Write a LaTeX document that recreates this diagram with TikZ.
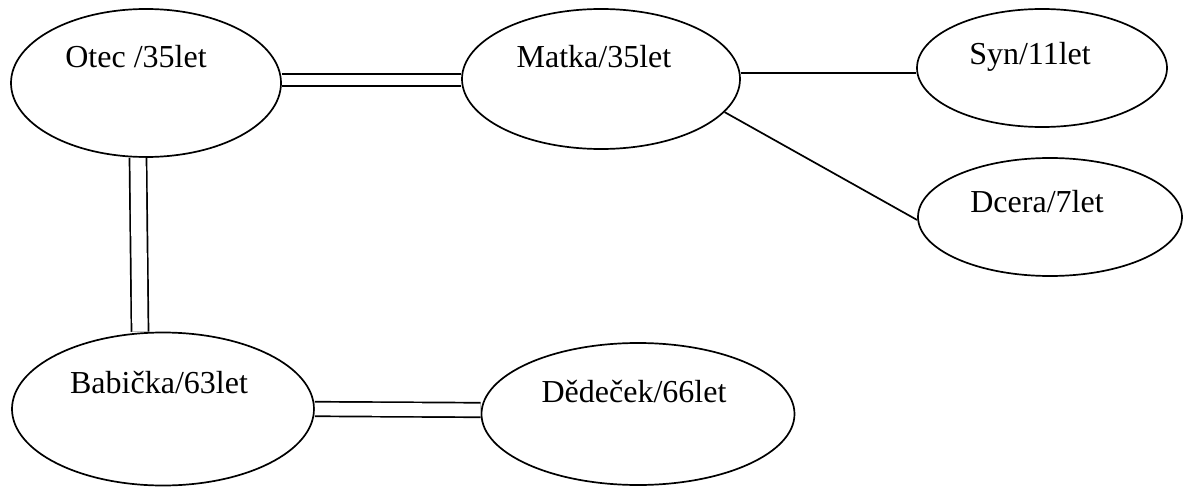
\documentclass[tikz,border=0pt]{standalone}
\usepackage{fontspec}
\setmainfont{Liberation Serif}
\usetikzlibrary{shapes.geometric}
\begin{document}
\begin{tikzpicture}[x=1pt,y=-1pt,
  person/.style={draw, ellipse, line width=1.7pt, inner sep=0pt},
  lbl/.style={anchor=base, inner sep=0pt, font=\fontsize{32}{38}\selectfont},
  link/.style={line width=1.7pt},
  dbl/.style={line width=1.7pt, double, double distance=#1}]
\useasboundingbox (0,0) rectangle (1186,487);
% persons
\node[person, minimum width=270pt, minimum height=148pt] (otec) at (146,83) {};
\node[person, minimum width=278pt, minimum height=140pt] (matka) at (601,79) {};
\node[person, minimum width=250pt, minimum height=118pt] (syn) at (1042,68) {};
\node[person, minimum width=264pt, minimum height=118pt] (dcera) at (1050,217) {};
\node[person, minimum width=302pt, minimum height=153pt] (babicka) at (163,409) {};
\node[person, minimum width=313pt, minimum height=142pt] (dedecek) at (638,414) {};
% texts
\node[lbl] (otecT) at (136,68) {Otec /35let};
\node[lbl] (matkaT) at (594,68) {Matka/35let};
\node[lbl] (synT) at (1030,64) {Syn/11let};
\node[lbl] (dceraT) at (1037,212) {Dcera/7let};
\node[lbl] (babickaT) at (159,393) {Babička/63let};
\node[lbl] (dedecekT) at (634,402) {Dědeček/66let};
% connectors
\draw[dbl=10.3pt] ([yshift=3pt]otec.east) -- ([yshift=-1pt]matka.west);
\draw[dbl=15.3pt] ([xshift=-8pt]otec.south) -- ([xshift=-23pt]babicka.north);
\draw[dbl=12.8pt] (babicka.east) -- ([yshift=4pt]dedecek.west);
\draw[link] ([yshift=6pt]matka.east) -- ([yshift=-5pt]syn.west);
\draw[link] (matka.-15.7) -- ([yshift=-3pt]dcera.west);
\end{tikzpicture}
\end{document}
